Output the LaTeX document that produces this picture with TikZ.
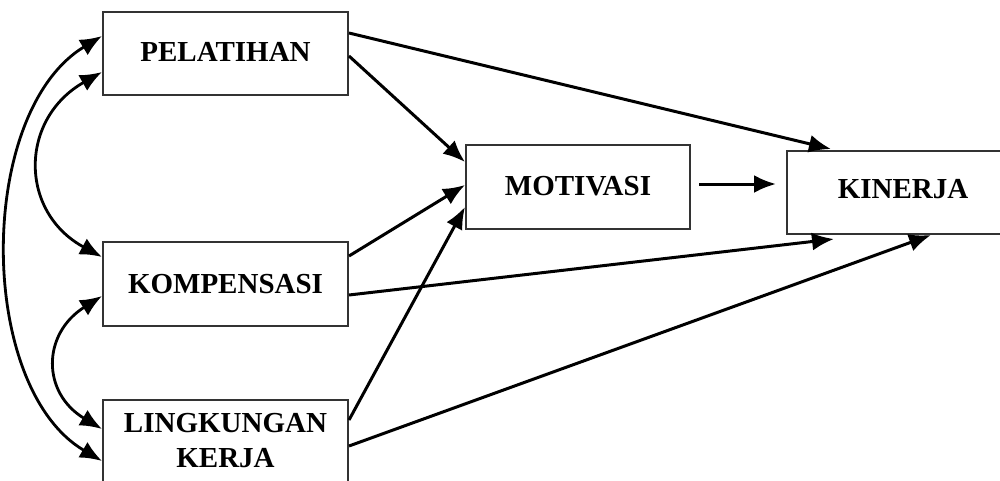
\documentclass[tikz,border=0pt]{standalone}
\usepackage{fontspec}
\setmainfont{Liberation Serif}
\usetikzlibrary{arrows.meta,calc}
\begin{document}
\begin{tikzpicture}[x=1pt,y=-1pt,
  box/.style={draw=black!80, line width=2pt, rectangle, inner sep=0pt, align=center,
    font=\fontsize{29}{35}\selectfont\bfseries},
  tipa/.tip={Latex[length=22pt,width=18pt]},
  arr/.style={line width=3pt, -tipa},
  darr/.style={line width=2.8pt, tipa-tipa}]
\useasboundingbox (0,0) rectangle (1000,480);
\fill[white] (0,0) rectangle (1000,480);
\node[box, minimum width=245pt, minimum height=83pt] (pel) at (225.5,53.5) {\raisebox{2.5pt}{PELATIHAN}};
\node[box, minimum width=245pt, minimum height=84pt] (komp) at (225.5,284) {\raisebox{-3pt}{KOMPENSASI}};
\node[box, minimum width=245pt, minimum height=82pt] (ling) at (225.5,441) {LINGKUNGAN\\KERJA};
\node[box, minimum width=224pt, minimum height=84pt] (mot) at (578,187) {\raisebox{2pt}{MOTIVASI}};
\node[box, minimum width=232pt, minimum height=83pt] (kin) at (903,192.5) {\raisebox{7pt}{KINERJA}};
% straight arrows
\draw[arr] ($(pel.north east)+(0,22)$) -- ($(kin.north west)+(45,-1)$);
\draw[arr] ($(pel.north east)+(0,45)$) -- ($(mot.north west)+(0,18)$);
\draw[arr] ($(komp.north east)+(0,15)$) -- ($(mot.west)+(0,-2)$);
\draw[arr] ($(komp.east)+(0,11)$) -- ($(kin.south west)+(48,4)$);
\draw[arr] ($(ling.north east)+(0,21)$) -- ($(mot.west)+(0,20)$);
\draw[arr] ($(ling.north east)+(0,47)$) -- ($(kin.south west)+(145,0)$);
\draw[arr] ($(mot.east)+(8,-3)$) -- ($(kin.west)+(-10,-8.5)$);
% curved double arrows
\draw[darr] ($(pel.north west)+(0,25)$) .. controls (-23.7,112) and (-23.7,387) .. ($(ling.north west)+(0,62)$);
\draw[darr] ($(pel.north west)+(0,61)$) .. controls (19,119) and (19,212) .. ($(komp.north west)+(0,16)$);
\draw[darr] ($(komp.north west)+(0,55)$) .. controls (41.7,334) and (41.7,393) .. ($(ling.north west)+(0,30)$);
\end{tikzpicture}
\end{document}
